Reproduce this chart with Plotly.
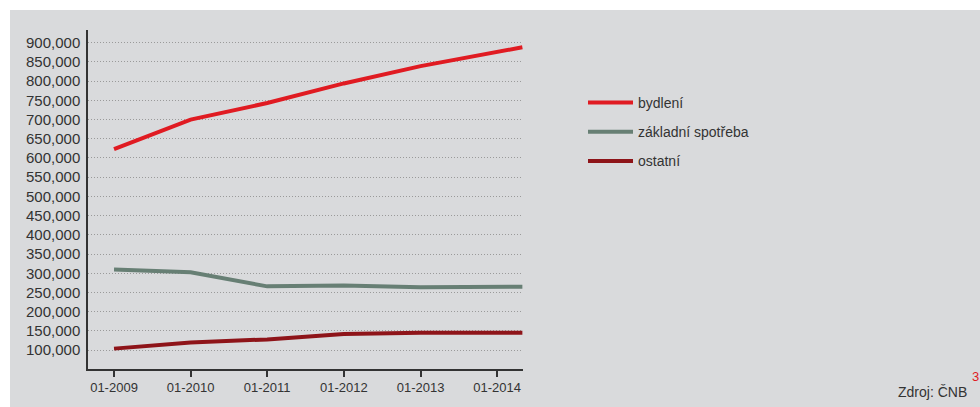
import plotly.graph_objects as go

dates = ["2009-01-01", "2010-01-01", "2011-01-01", "2012-01-01", "2013-01-01", "2014-01-01", "2014-05-01"]
bydleni = [623000, 700000, 743000, 794000, 839000, 875000, 888000]
zakladni = [310000, 302500, 266000, 268500, 263500, 264000, 265000]
ostatni = [104000, 120000, 128000, 142000, 145000, 145000, 145000]
series_names = ["bydlení", "základní spotřeba", "ostatní"]
colors = ["#E01B22", "#677F74", "#8E1419"]
tick_vals = ["2009-01-01", "2010-01-01", "2011-01-01", "2012-01-01", "2013-01-01", "2014-01-01"]
tick_text = ["01-2009", "01-2010", "01-2011", "01-2012", "01-2013", "01-2014"]
y_ticks = list(range(100000, 900001, 50000))

BG = "#D9DADC"
FONT = "Liberation Sans, Arial, sans-serif"

fig = go.Figure()
for name, vals, col in zip(series_names, [bydleni, zakladni, ostatni], colors):
    fig.add_trace(go.Scatter(x=dates, y=vals, mode="lines", name=name,
                             legendgroup=name,
                             line=dict(color=col, width=4)))

W, H = 980, 407
L, T = 88, 30
R = W - 523
B = H - 369
pw = W - L - R
ph = H - T - B


def px(x):
    return (x - L) / pw


def py(y):
    return (H - B - y) / ph


fig.add_shape(type="rect", xref="paper", yref="paper",
              x0=px(10), x1=px(W + 20), y0=py(H + 20), y1=py(10),
              fillcolor=BG, line=dict(width=0), layer="below")

fig.update_layout(
    width=W, height=H,
    margin=dict(l=L, r=R, t=T, b=B),
    paper_bgcolor="white", plot_bgcolor=BG,
    font=dict(family=FONT, color="#333333"),
    showlegend=True,
    legend=dict(x=px(583), y=py(87), xanchor="left", yanchor="top",
                bgcolor="rgba(0,0,0,0)", font=dict(size=14, color="#333333"),
                tracegroupgap=8, itemwidth=45),
    xaxis=dict(type="date", range=["2008-08-30", "2014-05-04"],
               tickvals=tick_vals, ticktext=tick_text,
               showgrid=False, zeroline=False,
               showline=True, linecolor="#333333", linewidth=1.5,
               ticks="outside", ticklen=6, tickcolor="#333333", tickwidth=1.5,
               tickfont=dict(size=13, color="#333333")),
    yaxis=dict(range=[51000, 933000], tickvals=y_ticks,
               tickformat=",d",
               showgrid=True, gridcolor="#9A9A9A", griddash="1px,2px", gridwidth=1,
               zeroline=False, showline=True, linecolor="#333333", linewidth=1.5,
               ticks="", ticklabelstandoff=3,
               tickfont=dict(size=15, color="#333333")),
    annotations=[
        dict(text="Zdroj: ČNB", xref="paper", yref="paper",
             x=px(969), y=py(392), xanchor="right", yanchor="middle",
             showarrow=False, font=dict(size=14, color="#333333")),
        dict(text="3", xref="paper", yref="paper",
             x=px(975), y=py(377), xanchor="center", yanchor="middle",
             showarrow=False, font=dict(size=13, color="#E01B22")),
    ],
)

fig.write_html("out.html", config={"displayModeBar": False},
               post_script="document.body.style.margin='0';document.body.style.overflow='hidden';")
